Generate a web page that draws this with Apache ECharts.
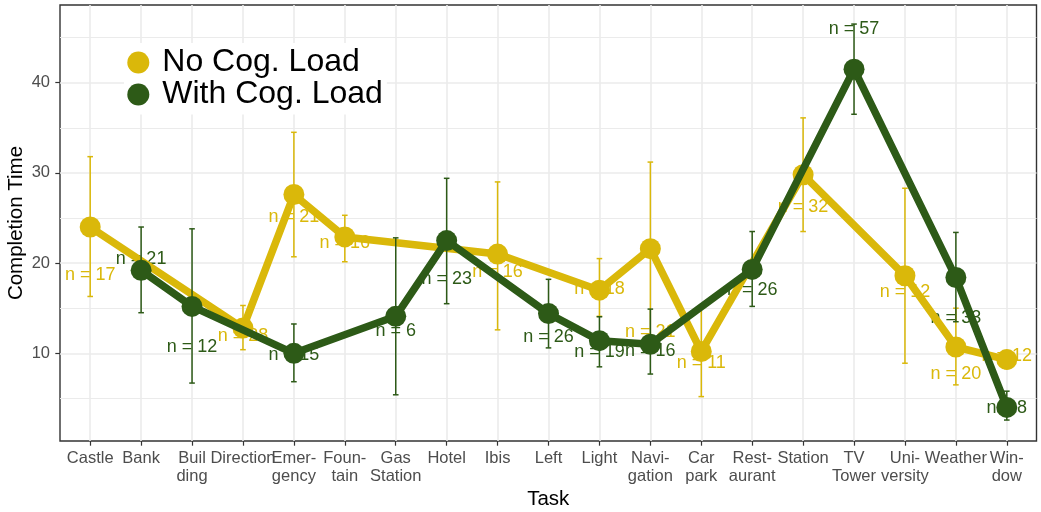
<!DOCTYPE html>
<html>
<head>
<meta charset="utf-8">
<script src="https://cdn.jsdelivr.net/npm/echarts@6/dist/echarts.min.js"></script>
<style>
  html, body { margin: 0; padding: 0; background: #ffffff; }
  #chart { width: 1041px; height: 512px; }
</style>
</head>
<body>
<div id="chart"></div>
<script>
// ---------------- data ----------------
const categories = ['Castle', 'Bank', 'Buil\nding', 'Direction', 'Emer-\ngency', 'Foun-\ntain', 'Gas\nStation', 'Hotel', 'Ibis', 'Left', 'Light', 'Navi-\ngation', 'Car\npark', 'Rest-\naurant', 'Station', 'TV\nTower', 'Uni-\nversity', 'Weather', 'Win-\ndow'];

const noLoadMean   = [24.0, null, null, 12.8, 27.6, 22.9, null, null, 21.0, null, 17.0, 21.6, 10.2, null, 29.8, null, 18.6, 10.7, 9.3];
const noLoadLow    = [16.3, null, null, 10.4, 20.7, 20.15, null, null, 12.6, null, 14.1, 12.0, 5.2, null, 23.5, null, 8.9, 6.5, 8.3];
const noLoadHigh   = [31.8, null, null, 15.3, 34.5, 25.3, null, null, 29.0, null, 20.5, 31.2, 15.2, null, 36.1, null, 28.3, 15.0, 10.3];
const noLoadN      = [17, null, null, 28, 21, 16, null, null, 16, null, 18, 21, 11, null, 32, null, 12, 20, 12];
const noLoadLabelY = [18.7, null, null, 11.9, 25.1, 22.2, null, null, 19.0, null, 17.1, 12.4, 8.9, null, 26.2, null, 16.8, 7.7, 9.7];

const loadMean   = [null, 19.2, 15.2, null, 10.0, null, 14.1, 22.5, null, 14.4, 11.4, 11.0, null, 19.3, null, 41.5, null, 18.4, 4.0];
const loadLow    = [null, 14.5, 6.7, null, 6.85, null, 5.4, 15.5, null, 10.6, 8.5, 7.7, null, 15.2, null, 36.5, null, 13.5, 2.6];
const loadHigh   = [null, 24.0, 23.8, null, 13.25, null, 22.8, 29.4, null, 18.2, 14.05, 14.9, null, 23.5, null, 46.5, null, 23.4, 5.8];
const loadN      = [null, 21, 12, null, 15, null, 6, 23, null, 26, 19, 16, null, 26, null, 57, null, 33, 8];
const loadLabelY = [null, 20.5, 10.7, null, 9.8, null, 12.5, 18.2, null, 11.8, 10.1, 10.25, null, 17.0, null, 45.9, null, 13.95, 3.9];

// ---------------- styling ----------------
const YELLOW = '#DAB80A';
const GREEN = '#2D5A17';
const FONT = "'Liberation Sans', Arial, sans-serif";
const GRID_COL = '#EBEBEB';

// ---------------- helpers ----------------
function linePts(arr) { return arr.map((v, i) => [i, v == null ? '-' : v]); }
function barPts(lo, hi) {
  const out = [];
  lo.forEach((v, i) => { if (v != null) out.push([i, v, hi[i]]); });
  return out;
}
function labelPts(ly, n) {
  const out = [];
  ly.forEach((v, i) => { if (v != null) out.push([i, v, n[i]]); });
  return out;
}
function errRender(color) {
  return function (params, api) {
    const x = api.value(0);
    const lo = api.coord([x, api.value(1)]);
    const hi = api.coord([x, api.value(2)]);
    const hw = 2.8;
    const st = { stroke: color, lineWidth: 1.5 };
    return {
      type: 'group',
      children: [
        { type: 'line', shape: { x1: lo[0], y1: lo[1], x2: hi[0], y2: hi[1] }, style: st },
        { type: 'line', shape: { x1: lo[0] - hw, y1: lo[1], x2: lo[0] + hw, y2: lo[1] }, style: st },
        { type: 'line', shape: { x1: hi[0] - hw, y1: hi[1], x2: hi[0] + hw, y2: hi[1] }, style: st }
      ]
    };
  };
}
function textRender(color) {
  return function (params, api) {
    const p = api.coord([api.value(0), api.value(1)]);
    return {
      type: 'text',
      x: p[0], y: p[1],
      style: {
        text: 'n = ' + api.value(2),
        fill: color,
        font: '18px ' + FONT,
        align: 'center',
        verticalAlign: 'middle'
      }
    };
  };
}

// panel: x 59.7..1036.7, y 5..441 ; data x0 = 90.2, unit 50.92 ; y: 10 -> 353.3, 9.02 px / unit
const PANEL = { left: 60, top: 5, width: 976.5, height: 436 };
const unitY = 9.02;
const y10 = 353.3;
function yPx(v) { return y10 - (v - 10) * unitY; }

const chart = echarts.init(document.getElementById('chart'), null, { renderer: 'canvas' });

const hiddenAxis = (gi) => ({ type: 'value', gridIndex: gi, show: false, min: 0, max: 1 });

const option = {
  backgroundColor: '#ffffff',
  animation: false,
  grid: [
    { left: PANEL.left, top: PANEL.top, width: PANEL.width, height: PANEL.height, show: true, borderColor: '#333333', borderWidth: 1.4, backgroundColor: 'transparent', outerBoundsMode: 'none', containLabel: false },
    { left: PANEL.left, top: yPx(45), width: PANEL.width, height: yPx(5) - yPx(45), outerBoundsMode: 'none', containLabel: false },
    { left: PANEL.left, top: yPx(40), width: PANEL.width, height: yPx(10) - yPx(40), outerBoundsMode: 'none', containLabel: false },
    { left: 90.2, top: PANEL.top, width: 916.6, height: PANEL.height, outerBoundsMode: 'none', containLabel: false }
  ],
  xAxis: [
    {
      type: 'value', gridIndex: 0, min: 0, max: 1,
      axisLine: { show: false }, axisTick: { show: false }, axisLabel: { show: false }, splitLine: { show: false },
      name: 'Task', nameLocation: 'middle', nameGap: 48,
      nameTextStyle: { fontFamily: FONT, fontSize: 20.5, color: '#000000' }
    },
    hiddenAxis(1),
    hiddenAxis(2),
    {
      type: 'value', gridIndex: 3, min: 0, max: 18, interval: 1,
      axisLine: { show: false },
      axisTick: { show: true, length: 4.7, lineStyle: { color: '#333333', width: 1.2 } },
      splitLine: { show: true, lineStyle: { color: GRID_COL, width: 1.6 } },
      axisLabel: {
        show: true, margin: 8.5, color: '#4D4D4D', fontFamily: FONT, fontSize: 16.5, lineHeight: 18.3,
        showMinLabel: true, showMaxLabel: true, hideOverlap: false,
        formatter: function (v) { return categories[Math.round(v)] || ''; }
      }
    }
  ],
  yAxis: [
    {
      type: 'value', gridIndex: 0, min: 0, max: 1,
      axisLine: { show: false }, axisTick: { show: false }, axisLabel: { show: false }, splitLine: { show: false },
      name: 'Completion Time', nameLocation: 'middle', nameGap: 33, nameRotate: 90,
      nameTextStyle: { fontFamily: FONT, fontSize: 20.5, color: '#000000' }
    },
    {
      type: 'value', gridIndex: 1, min: 5, max: 45, interval: 10,
      axisLine: { show: false }, axisTick: { show: false }, axisLabel: { show: false },
      splitLine: { show: true, lineStyle: { color: GRID_COL, width: 1.0 } }
    },
    {
      type: 'value', gridIndex: 2, min: 10, max: 40, interval: 10,
      axisLine: { show: false },
      axisTick: { show: true, length: 4.7, lineStyle: { color: '#333333', width: 1.2 } },
      axisLabel: { show: true, margin: 10, color: '#4D4D4D', fontFamily: FONT, fontSize: 16.5, showMinLabel: true, showMaxLabel: true },
      splitLine: { show: true, lineStyle: { color: GRID_COL, width: 1.6 } }
    },
    {
      type: 'value', gridIndex: 3, show: false,
      min: 10 - (441 - y10) / unitY, max: 10 + (y10 - 5) / unitY
    }
  ],
  legend: {
    show: true,
    data: ['No Cog. Load', 'With Cog. Load'],
    orient: 'vertical',
    left: 124, top: 43,
    padding: [3.5, 4, 4, 3.3],
    backgroundColor: '#ffffff',
    icon: 'circle',
    itemWidth: 22, itemHeight: 22, itemGap: 0,
    textStyle: { fontFamily: FONT, fontSize: 32, color: '#000000', lineHeight: 29.5, padding: [0, 0, 0, 8] }
  },
  series: [
    { type: 'custom', name: 'nolabels', xAxisIndex: 3, yAxisIndex: 3, z: 1, silent: true, renderItem: textRender(YELLOW), data: labelPts(noLoadLabelY, noLoadN), encode: { x: 0, y: 1 } },
    { type: 'custom', name: 'loadlabels', xAxisIndex: 3, yAxisIndex: 3, z: 1, silent: true, renderItem: textRender(GREEN), data: labelPts(loadLabelY, loadN), encode: { x: 0, y: 1 } },
    { type: 'custom', name: 'noerr', xAxisIndex: 3, yAxisIndex: 3, z: 2, silent: true, renderItem: errRender(YELLOW), data: barPts(noLoadLow, noLoadHigh), encode: { x: 0, y: [1, 2] } },
    {
      type: 'line', name: 'No Cog. Load', xAxisIndex: 3, yAxisIndex: 3, z: 3,
      data: linePts(noLoadMean), connectNulls: true,
      symbol: 'circle', symbolSize: 21, showAllSymbol: true,
      lineStyle: { color: YELLOW, width: 7.5, join: 'round', cap: 'round' },
      itemStyle: { color: YELLOW, borderWidth: 0 }
    },
    { type: 'custom', name: 'loaderr', xAxisIndex: 3, yAxisIndex: 3, z: 4, silent: true, renderItem: errRender(GREEN), data: barPts(loadLow, loadHigh), encode: { x: 0, y: [1, 2] } },
    {
      type: 'line', name: 'With Cog. Load', xAxisIndex: 3, yAxisIndex: 3, z: 5,
      data: linePts(loadMean), connectNulls: true,
      symbol: 'circle', symbolSize: 21, showAllSymbol: true,
      lineStyle: { color: GREEN, width: 7.5, join: 'round', cap: 'round' },
      itemStyle: { color: GREEN, borderWidth: 0 }
    }
  ]
};
chart.setOption(option);
</script>
</body>
</html>
